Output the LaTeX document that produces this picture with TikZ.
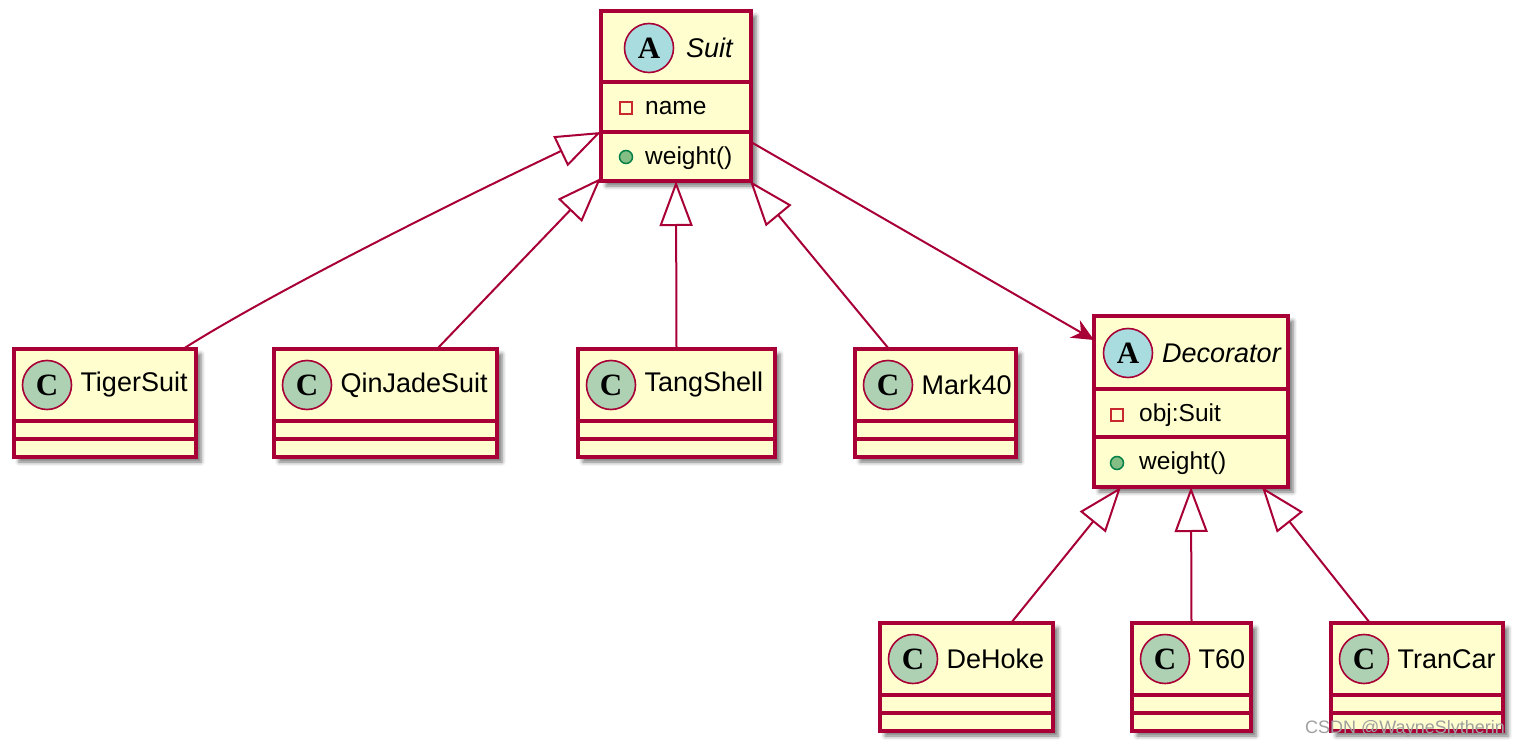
\documentclass[tikz,border=0pt]{standalone}
\usepackage{fontspec}
\setmainfont{Liberation Sans}
\newfontfamily\circfont{Liberation Serif}
\usetikzlibrary{arrows.meta,shadows.blur,calc}
\definecolor{bord}{HTML}{A80036}
\definecolor{boxfill}{HTML}{FEFECE}
\definecolor{ccol}{HTML}{ADD1B2}
\definecolor{acol}{HTML}{A9DCDF}
\definecolor{privcol}{HTML}{C82930}
\definecolor{pubfill}{HTML}{84BE84}
\definecolor{pubdraw}{HTML}{038048}
\tikzset{
  box/.style={draw=bord, line width=3.3pt, fill=boxfill, rectangle, inner sep=0pt, outer sep=0pt,
    anchor=north west,
    blur shadow={shadow xshift=5pt, shadow yshift=-5pt, shadow blur radius=4pt, shadow opacity=55}},
  divl/.style={draw=bord, line width=3.3pt},
  letcirc/.style={circle, draw=bord, line width=1.6pt, minimum size=49pt, inner sep=0pt,
    font=\circfont\bfseries\fontsize{31}{31}\selectfont},
  ccirc/.style={letcirc, fill=ccol},
  acirc/.style={letcirc, fill=acol},
  cname/.style={anchor=west, inner sep=0pt, font=\fontsize{27}{30}\selectfont},
  aname/.style={anchor=west, inner sep=0pt, font=\itshape\fontsize{27}{30}\selectfont},
  member/.style={anchor=west, inner sep=0pt, font=\fontsize{24.5}{28}\selectfont},
  privicon/.style={rectangle, draw=privcol, line width=1.5pt, fill=boxfill, minimum size=12pt, inner sep=0pt},
  pubicon/.style={circle, draw=pubdraw, line width=1.5pt, fill=pubfill, minimum size=13pt, inner sep=0pt},
  conn/.style={draw=bord, line width=2pt},
  inherit/.style={conn, -{Triangle[length=45pt, width=33pt, fill=white]}},
  assoc/.style={conn, -{Stealth[length=22pt, width=20pt, inset=7pt]}, bord}
}
\newcommand\umlclass[5]{%
  \node[box, minimum width={#3-#2}, minimum height=108] (#1) at (#2,#4) {};
  \draw[divl] ($(#1.north west)+(0,72)$) -- ($(#1.north east)+(0,72)$);
  \draw[divl] ($(#1.north west)+(0,90)$) -- ($(#1.north east)+(0,90)$);
  \node[ccirc] (#1c) at ($(#1.north west)+(33,36)$) {C};
  \node[cname] (#1t) at ($(#1c.east)+(8,0)$) {#5};
}
\begin{document}
\begin{tikzpicture}[x=1pt,y=-1pt]
\useasboundingbox (0,0) rectangle (1521,749);

% Suit
\node[box, minimum width=150, minimum height=170] (suit) at (601,11) {};
\draw[divl] (suit.west |- 0,82) -- (suit.east |- 0,82);
\draw[divl] (suit.west |- 0,132) -- (suit.east |- 0,132);
\node[acirc] (suitc) at (649,48) {A};
\node[aname] (suitt) at (686,48) {Suit};
\node[privicon] (suitp) at (626,108) {};
\node[member] (suitm1) at (645,108) {name};
\node[pubicon] (suitq) at (626,157) {};
\node[member] (suitm2) at (645,158) {weight()};

% Decorator
\node[box, minimum width=194, minimum height=171] (dec) at (1094,316) {};
\draw[divl] (dec.west |- 0,389) -- (dec.east |- 0,389);
\draw[divl] (dec.west |- 0,437) -- (dec.east |- 0,437);
\node[acirc] (decc) at (1128,353) {A};
\node[aname] (dect) at (1162,353) {Decorator};
\node[privicon] (decp) at (1117,415) {};
\node[member] (decm1) at (1139,415) {obj:Suit};
\node[pubicon] (decq) at (1117,463) {};
\node[member] (decm2) at (1139,463) {weight()};

% concrete classes
\umlclass{tiger}{14}{196}{349}{TigerSuit}
\umlclass{qin}{274}{497}{349}{QinJadeSuit}
\umlclass{tang}{578}{775}{349}{TangShell}
\umlclass{mark}{855}{1016}{349}{Mark40}
\umlclass{dehoke}{880}{1053}{623}{DeHoke}
\umlclass{tsixty}{1132}{1251}{623}{T60}
\umlclass{tran}{1331}{1503}{623}{TranCar}

% connectors
\draw[inherit] ($(tiger.north west)+(169,0)$) .. controls (260,300) and (420,218) .. ($(suit.north west)+(0,121)$);
\draw[inherit] ($(qin.north west)+(163,0)$) -- ($(suit.south west)+(0,-3)$);
\draw[inherit] (tang.north) -- (suit.south);
\draw[inherit] ($(mark.north west)+(34,0)$) -- ($(suit.south east)+(-1,0)$);
\draw[assoc] ($(suit.north east)+(0,131)$) -- ($(dec.north west)+(0,24)$);
\draw[inherit] ($(dehoke.north west)+(131,0)$) -- ($(dec.south west)+(27,0)$);
\draw[inherit] (tsixty.north) -- (dec.south);
\draw[inherit] ($(tran.north west)+(39,0)$) -- ($(dec.south east)+(-26,0)$);

% watermark
\node[anchor=east, inner sep=0pt, text=gray!75, font=\fontsize{18}{18}\selectfont] (wm) at (1505,729) {CSDN @WayneSlytherin};
\end{tikzpicture}
\end{document}
